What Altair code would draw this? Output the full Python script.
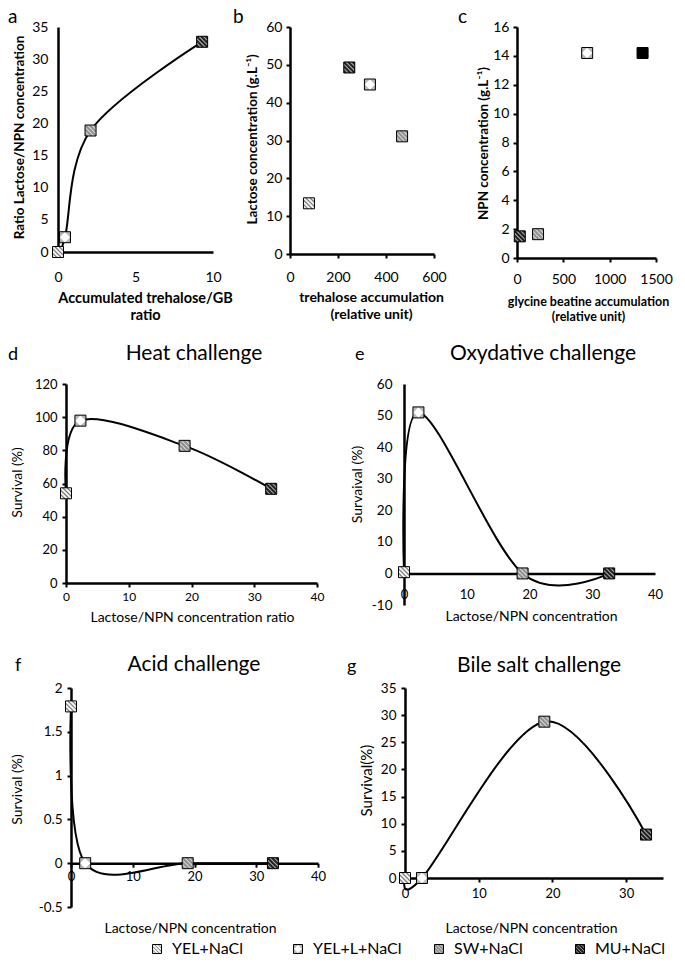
import altair as alt
import pandas as pd

FONT = "Lato"

# ---------------- data ----------------
categories = ["YEL+NaCl", "YEL+L+NaCl", "SW+NaCl", "MU+NaCl"]

# panel a : accumulated trehalose/GB ratio  vs  lactose/NPN ratio
a_cat = ["YEL+NaCl", "YEL+L+NaCl", "SW+NaCl", "MU+NaCl"]
a_x = [0.0, 0.45, 2.1, 9.3]
a_y = [0.0, 2.3, 18.9, 32.7]

# panel b : trehalose accumulation vs lactose concentration
b_cat = ["YEL+NaCl", "MU+NaCl", "YEL+L+NaCl", "SW+NaCl"]
b_x = [79, 247, 333, 467]
b_y = [13.4, 49.3, 44.8, 31.1]

# panel c : glycine betaine accumulation vs NPN concentration
c_cat = ["MU+NaCl", "SW+NaCl", "YEL+L+NaCl", "YEL+NaCl"]
c_x = [30, 227, 757, 1355]
c_y = [1.5, 1.65, 14.2, 14.2]

# panels d-g : lactose/NPN ratio vs survival (%)
ratio_cat = ["YEL+NaCl", "YEL+L+NaCl", "SW+NaCl", "MU+NaCl"]
ratio = [0.0, 2.3, 18.9, 32.7]
heat = [54.1, 97.9, 82.7, 56.8]
oxy = [0.4, 51.0, 0.0, 0.0]
acid = [1.79, 0.0, 0.0, 0.0]
bile = [0.0, 0.0, 28.8, 8.0]

a_xt = [0, 5, 10]
a_yt = [0, 5, 10, 15, 20, 25, 30, 35]
b_xt = [0, 200, 400, 600]
b_yt = [0, 10, 20, 30, 40, 50, 60]
c_xt = [0, 500, 1000, 1500]
c_yt = [0, 2, 4, 6, 8, 10, 12, 14, 16]
d_xt = [0, 10, 20, 30, 40]
d_yt = [0, 20, 40, 60, 80, 100, 120]
e_yt = [-10, 0, 10, 20, 30, 40, 50, 60]
f_yt = [-0.5, 0, 0.5, 1, 1.5, 2]
g_xt = [0, 10, 20, 30]
g_yt = [0, 5, 10, 15, 20, 25, 30, 35]

# ---------------- marker styles ----------------
FILL = {"YEL+NaCl": "#f4f4f4", "YEL+L+NaCl": "#b8b8b8", "SW+NaCl": "#8e8e8e", "MU+NaCl": "#1e1e1e"}
STRIPE = {"YEL+NaCl": "#7a7a7a", "YEL+L+NaCl": "#ffffff", "SW+NaCl": "#d2d2d2", "MU+NaCl": "#a0a0a0"}
STRIPES = "M-1,0.2L-0.2,1M-1,-0.6L0.6,1M-0.6,-1L1,0.6M0.2,-1L1,-0.2"
DIAMOND = "M0,-0.78L0.78,0L0,0.78L-0.78,0Z"
SHAPE = {"YEL+NaCl": STRIPES, "YEL+L+NaCl": DIAMOND, "SW+NaCl": STRIPES, "MU+NaCl": STRIPES}


def frame(cats, xs, ys):
    return pd.DataFrame({"cat": cats, "x": xs, "y": ys})


def marker_layers(base, size, fills, stripes, sw=1.2):
    dom = categories
    sq = base.mark_point(shape="square", size=size, filled=True, opacity=1, strokeWidth=0).encode(
        fill=alt.Fill("cat:N", scale=alt.Scale(domain=dom, range=[fills[c] for c in dom]), legend=None))
    st = base.mark_point(size=size, filled=True, opacity=1, strokeWidth=sw).encode(
        shape=alt.Shape("cat:N", scale=alt.Scale(domain=dom, range=[SHAPE[c] for c in dom]), legend=None),
        color=alt.Color("cat:N", scale=alt.Scale(domain=dom, range=[stripes[c] for c in dom]), legend=None),
        stroke=alt.Stroke("cat:N", scale=alt.Scale(domain=dom, range=[stripes[c] for c in dom]), legend=None))
    bd = base.mark_point(shape="square", size=size, filled=False, opacity=1, strokeWidth=1,
                         color="black")
    return [sq, st, bd]


def ax(values, title, lfs, tfs, bold, ticks, lpad, tx, ty, offset=None, tsize=4, lh=17):
    kw = dict(values=values, title=title, labelFontSize=lfs, titleFontSize=tfs,
              titleFontWeight="bold" if bold else "normal", ticks=ticks,
              tickSize=tsize if ticks else 0, labelPadding=lpad, titleX=tx, titleY=ty,
              titleAlign="center", titleBaseline="middle", titleLineHeight=lh,
              labelExpr="toString(datum.value)")
    if offset is not None:
        kw["offset"] = offset
    return alt.Axis(**kw)


def txt(s, x, y, size, baseline="alphabetic", align="left"):
    return alt.Chart(pd.DataFrame({"t": [s]})).mark_text(
        fontSize=size, baseline=baseline, align=align, font=FONT, color="black").encode(
        x=alt.value(x), y=alt.value(y), text="t:N")


def panel(df, xaxis, yaxis, xdom, ydom, w, h, line=True, fills=FILL, stripes=STRIPE, extra=()):
    base = alt.Chart(df).encode(
        x=alt.X("x:Q", scale=alt.Scale(domain=xdom, nice=False, zero=False), axis=xaxis),
        y=alt.Y("y:Q", scale=alt.Scale(domain=ydom, nice=False, zero=False), axis=yaxis),
    )
    layers = []
    if line:
        layers.append(base.mark_line(interpolate="cardinal", color="black", strokeWidth=2))
    layers += marker_layers(base, 121, fills, stripes)
    layers += list(extra)
    return alt.layer(*layers).properties(width=w, height=h)


# ---------------- panels ----------------
pa = panel(frame(a_cat, a_x, a_y),
           ax(a_xt, ["Accumulated trehalose/GB", "ratio"], 14, 14.5, True, False, 18, 87, 46),
           ax(a_yt, "Ratio Lactose/NPN concentration", 14, 13.5, True, False, 10, -39, 110),
           [0, 10], [0, 35], 155, 225,
           extra=[txt("a", -50, -19, 19, baseline="top")])

pb = panel(frame(b_cat, b_x, b_y),
           ax(b_xt, ["trehalose accumulation", "(relative unit)"], 14, 14, True, True, 12, 81, 43),
           ax(b_yt, "Lactose concentration (g.L\u207b\u00b9)", 14, 13.5, True, True, 4, -38, 112),
           [0, 600], [0, 60], 144, 227, line=False,
           extra=[txt("b", -57, -19, 19, baseline="top")])

c_fill = dict(FILL)
c_fill["YEL+NaCl"] = "#000000"
c_stripe = dict(STRIPE)
c_stripe["YEL+NaCl"] = "#000000"
pc = panel(frame(c_cat, c_x, c_y),
           ax(c_xt, ["glycine beatine accumulation", "(relative unit)"], 14, 12.5, True, True, 10, 71, 43, lh=15),
           ax(c_yt, "NPN concentration (g.L\u207b\u00b9)", 14, 13.5, True, True, 4, -34, 116),
           [0, 1500], [0, 16], 139, 231, line=False, fills=c_fill, stripes=c_stripe,
           extra=[txt("c", -59, -19, 19, baseline="top")])

ratio_df = lambda vals: frame(ratio_cat, ratio, vals)

pd_ = panel(ratio_df(heat),
            ax(d_xt, "Lactose/NPN concentration ratio", 12, 14, False, True, 4, 126, 34),
            ax(d_yt, "Survival (%)", 13, 14, False, True, 5, -49, 98),
            [0, 40], [0, 120], 251, 199,
            extra=[txt("d", -58, -24, 18), txt("Heat challenge", 128, -24, 21, align="center")])

e_h = 221
pe = panel(ratio_df(oxy),
           ax(d_xt, "Lactose/NPN concentration", 13, 14, False, False, 15, 127, 43,
              offset=-e_h * 10 / 70),
           ax(e_yt, "Survaival (%)", 13.5, 14, False, False, 12, -47, 100),
           [0, 40], [-10, 60], 251, e_h,
           extra=[txt("e", -49, -24, 18), txt("Oxydative challenge", 139, -24, 21, align="center")])

f_h = 219
pf = panel(ratio_df(acid),
           ax(d_xt, "Lactose/NPN concentration", 13, 14, False, True, 3, 119, 65,
              offset=-f_h * 0.5 / 2.5),
           ax(f_yt, "Survival (%)", 13.5, 14, False, True, 5, -54, 101),
           [0, 40], [-0.5, 2], 247, f_h,
           extra=[txt("f", -56, -17, 18), txt("Acid challenge", 123, -17, 21, align="center")])

pg = panel(ratio_df(bile),
           ax(g_xt, "Lactose/NPN concentration", 13, 14, False, True, 5, 126, 50),
           ax(g_yt, "Survival(%)", 13.5, 15, False, True, 5, -39, 92),
           [0, 35], [0, 35], 258, 190,
           extra=[txt("g", -58, -16, 18), txt("Bile salt challenge", 134, -16, 21, align="center")])

# legend built from the categories
leg_df = pd.DataFrame({"cat": categories})
leg_base = alt.Chart(leg_df).encode(
    x=alt.X("cat:N", sort=categories, axis=None,
            scale=alt.Scale(type="point", domain=categories, padding=0)),
    y=alt.value(5))
leg = alt.layer(
    *marker_layers(leg_base, 81, FILL, STRIPE, sw=1),
    leg_base.mark_text(align="left", baseline="middle", dx=15, fontSize=16, font=FONT,
                       color="black").encode(text="cat:N"),
).properties(width=423, height=10)


def sp(w, h=1):
    return alt.Chart(pd.DataFrame({"s": [0]})).mark_point(opacity=0, size=1).properties(width=w, height=h)


RES = dict(fill="independent", color="independent", stroke="independent", shape="independent")


def row(*items):
    return alt.hconcat(*items, spacing=0, bounds="flush").resolve_scale(**RES)


row1 = row(sp(1), pa, sp(77), pb, sp(83), pc)
row2 = row(sp(9), pd_, sp(87), pe)
row3 = row(sp(14), pf, sp(87), pg)
row4 = row(sp(100), leg)

chart = alt.vconcat(
    row1, sp(1, 357), row2, sp(1, 304), row3, sp(1, 256), row4,
    spacing=0, bounds="flush",
).resolve_scale(**RES).properties(padding=0, background="white").configure_view(
    stroke=None).configure_axis(
    domainColor="black", domainWidth=2.5, tickColor="black", tickWidth=2, grid=False,
    labelColor="black", titleColor="black", labelFont=FONT, titleFont=FONT,
    labelFlush=False, labelOverlap=False,
).configure_text(font=FONT)

chart.save("out.html", embed_options={"renderer": "svg", "actions": False})
